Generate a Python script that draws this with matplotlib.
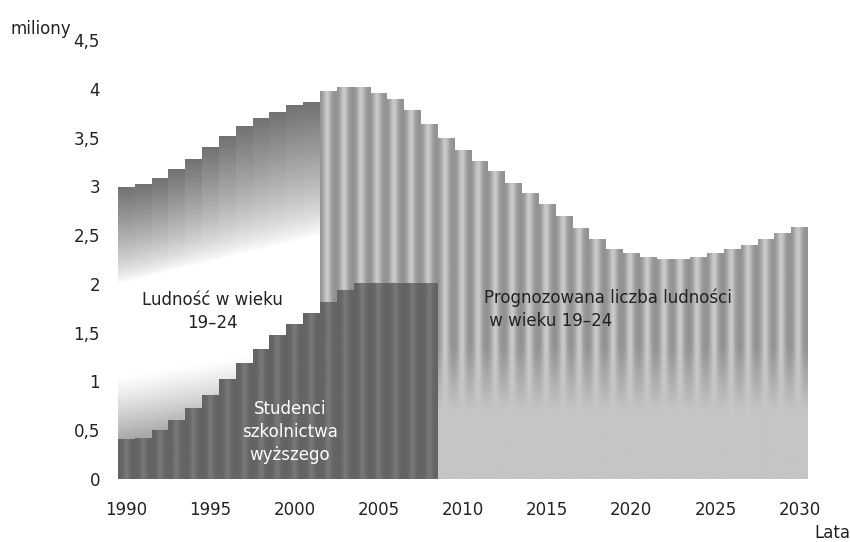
import numpy as np
import matplotlib
matplotlib.use("Agg")
import matplotlib.pyplot as plt

# population aged 19-24 (millions), 1990-2001
years_hist = list(range(1990, 2002))
population_hist = [2.99, 3.02, 3.08, 3.17, 3.27, 3.40, 3.51, 3.61, 3.70, 3.76, 3.83, 3.86]

# projected population aged 19-24 (millions), 2002-2030
years_proj = list(range(2002, 2031))
population_proj = [3.97, 4.01, 4.01, 3.95, 3.89, 3.78, 3.63, 3.49, 3.37, 3.25,
                   3.15, 3.03, 2.93, 2.81, 2.69, 2.57, 2.46, 2.35, 2.31, 2.27,
                   2.25, 2.25, 2.27, 2.31, 2.35, 2.39, 2.46, 2.52, 2.58]

# students in higher education (millions), 1990-2008
years_students = list(range(1990, 2009))
students = [0.40, 0.42, 0.50, 0.60, 0.72, 0.86, 1.02, 1.18, 1.33, 1.47,
            1.58, 1.70, 1.81, 1.93, 2.00, 2.00, 2.00, 2.00, 2.00]

x_ticks = [1990, 1995, 2000, 2005, 2010, 2015, 2020, 2025, 2030]
y_ticks = [0, 0.5, 1, 1.5, 2, 2.5, 3, 3.5, 4, 4.5]
y_tick_labels = ["0", "0,5", "1", "1,5", "2", "2,5", "3", "3,5", "4", "4,5"]

plt.rcParams["font.family"] = "DejaVu Sans"
text_color = "#222222"

fig = plt.figure(figsize=(8.5, 5.42), dpi=100)
ax = fig.add_axes([118 / 850, 63 / 542, 690 / 850, 439 / 542])

NROWS = 300
NCOLS = 24
u = (np.arange(NCOLS) + 0.5) / NCOLS


def paint(bar, shade, zorder):
    x0, w, h = bar.get_x(), bar.get_width(), bar.get_height()
    yy = (np.arange(NROWS) + 0.5) / NROWS * h
    xx = x0 + u * w
    img = shade(yy[:, None], u[None, :], xx[None, :], h)
    ax.imshow(img, extent=(x0, x0 + w, 0, h), origin="lower", cmap="gray",
              vmin=0, vmax=1, aspect="auto", interpolation="bilinear", zorder=zorder)


# historical population: dark at the top fading to white, light band near students
hist_bars = ax.bar(years_hist, population_hist, width=1.0, color="none", linewidth=0)
x_start = hist_bars[0].get_x()
x_span = hist_bars[-1].get_x() + hist_bars[-1].get_width() - x_start


def hist_shade(y, uu, x, h):
    frac = (x - x_start) / x_span
    fade = 2.0 + 0.5 * frac
    band = 1.05 + 0.35 * frac
    g = np.ones(np.broadcast(y, x).shape)
    t_up = np.clip((y - fade) / (h - fade), 0, 1)
    g = g - 0.55 * t_up ** 0.75
    t_lo = np.clip((band - y) / 0.65, 0, 1)
    g = g - 0.34 * t_lo ** 1.2
    return np.clip(g, 0, 1)


for bar in hist_bars:
    paint(bar, hist_shade, 2)

# projected population: cylinder-shaded columns above a flat light base
proj_bars = ax.bar(years_proj, population_proj, width=1.0, color="none", linewidth=0)


def proj_shade(y, uu, x, h):
    profile = 0.57 + 0.22 * np.exp(-((uu - 0.42) / 0.24) ** 2)
    w = np.clip((y - 0.7) / 0.65, 0, 1)
    return w * profile + (1 - w) * 0.77


for bar in proj_bars:
    paint(bar, proj_shade, 3)

# students: dark columns with a soft lighter stripe
stud_bars = ax.bar(years_students, students, width=1.0, color="none", linewidth=0)


def stud_shade(y, uu, x, h):
    profile = 0.39 + 0.08 * np.exp(-((uu - 0.5) / 0.2) ** 2)
    return profile + 0 * y


for bar in stud_bars:
    paint(bar, stud_shade, 4)

ax.set_xlim(1989.5, 2030.5)
ax.set_ylim(0, 4.5)
for s in ax.spines.values():
    s.set_visible(False)
ax.set_xticks(x_ticks)
ax.set_xticklabels([str(y) for y in x_ticks])
ax.set_yticks(y_ticks)
ax.set_yticklabels(y_tick_labels)
ax.tick_params(axis="x", length=0, pad=16, labelsize=12, labelcolor=text_color)
ax.tick_params(axis="y", length=0, pad=13, labelsize=12, labelcolor=text_color)

ax.text(1995.1, 1.72, "Ludność w wieku\n19–24", ha="center", va="center",
        fontsize=12, color=text_color, linespacing=1.35, zorder=6)
ax.text(1999.7, 0.48, "Studenci\nszkolnictwa\nwyższego", ha="center", va="center",
        fontsize=12, color="white", linespacing=1.35, zorder=6)
ax.text(2011.25, 1.74, "Prognozowana liczba ludności\n w wieku 19–24", ha="left", va="center",
        fontsize=12, color=text_color, linespacing=1.35, zorder=6)

fig.text(10 / 850, 1 - 29 / 542, "miliony", ha="left", va="center", fontsize=12, color=text_color)
fig.text(832 / 850, 1 - 533 / 542, "Lata", ha="center", va="center", fontsize=12, color=text_color)

fig.savefig("out.png", dpi=100)
